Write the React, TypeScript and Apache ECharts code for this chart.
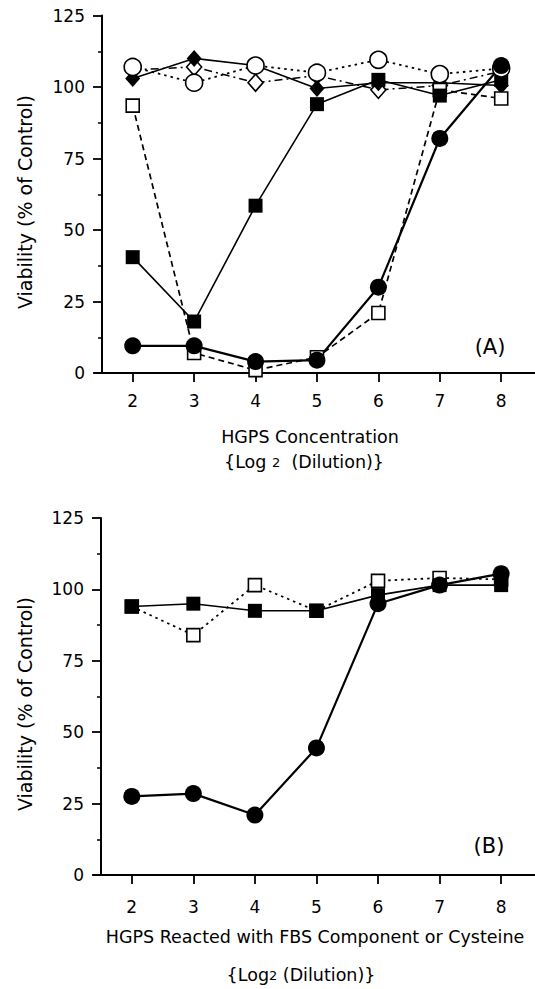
import React, { useEffect, useRef } from "react";
import * as echarts from "echarts";

// dilution steps (log2)
const xValues = [2, 3, 4, 5, 6, 7, 8];
const yTicks = [0, 25, 50, 75, 100, 125];

// Panel A
const aOpenDiamond = [106, 107, 101.5, 104, 99, 100.5, 105.5];
const aFilledDiamond = [103, 110, 107.5, 99.5, 101.5, 101.5, 100.5];
const aOpenSquare = [93.5, 7, 1, 5.5, 21, 99, 96];
const aFilledSquare = [40.5, 18, 58.5, 94, 102.5, 97, 102.5];
const aOpenCircle = [107, 101.5, 107.5, 105, 109.5, 104.5, 106.5];
const aFilledCircle = [9.5, 9.5, 4, 4.5, 30, 82, 107.5];

// Panel B
const bOpenSquare = [94, 84, 101.5, 92.5, 103, 104, 103.5];
const bFilledSquare = [94, 95, 92.5, 92.5, 98, 101.5, 101.5];
const bFilledCircle = [27.5, 28.5, 21, 44.5, 95, 101.5, 105.5];

const FONT = "DejaVu Sans";

function pairs(vals: number[]) {
  return xValues.map((x, i) => [x, vals[i]]);
}

function series(
  name: string,
  idx: number,
  vals: number[],
  symbol: string,
  size: number | number[],
  filled: boolean,
  lineType: any,
  width: number
) {
  return {
    name,
    type: "line",
    xAxisIndex: idx,
    yAxisIndex: idx,
    data: pairs(vals),
    symbol,
    symbolSize: size,
    showAllSymbol: true,
    lineStyle: { color: "#000", width, type: lineType },
    itemStyle: {
      color: filled ? "#000" : "#fff",
      borderColor: "#000",
      borderWidth: filled ? 0 : 1.6,
    },
    emphasis: { disabled: true },
  };
}

function xAxis(idx: number, margin: number) {
  return {
    gridIndex: idx,
    type: "value",
    min: 1.5,
    max: 8.55,
    axisLine: { show: true, onZero: false, lineStyle: { color: "#000", width: 2 } },
    axisTick: {
      show: true,
      length: 9,
      customValues: xValues,
      lineStyle: { color: "#000", width: 1.8 },
    },
    axisLabel: {
      customValues: xValues,
      margin,
      fontSize: 17,
      fontFamily: FONT,
      color: "#000",
    },
    splitLine: { show: false },
  };
}

function yAxis(idx: number) {
  return {
    gridIndex: idx,
    type: "value",
    min: 0,
    max: 125,
    interval: 25,
    axisLine: { show: true, lineStyle: { color: "#000", width: 2 } },
    axisTick: { show: true, length: 9, lineStyle: { color: "#000", width: 1.8 } },
    minorTick: { show: true, splitNumber: 2, length: 4, lineStyle: { color: "#000", width: 1.5 } },
    axisLabel: {
      margin: 17,
      fontSize: 17,
      fontFamily: FONT,
      color: "#000",
      customValues: yTicks,
    },
    splitLine: { show: false },
    minorSplitLine: { show: false },
  };
}

export default function App() {
  const ref = useRef<HTMLDivElement>(null);

  useEffect(() => {
    document.body.style.margin = "0";
    const chart = echarts.init(ref.current!, null, { renderer: "svg" });
    const textStyle = { fontFamily: FONT, fill: "#000", textAlign: "center", textVerticalAlign: "middle" };
    chart.setOption({
      animation: false,
      backgroundColor: "#fff",
      grid: [
        { left: 102, top: 15.5, width: 433, height: 357.5 },
        { left: 101, top: 518, width: 434, height: 357 },
      ],
      xAxis: [xAxis(0, 19), xAxis(1, 23)],
      yAxis: [yAxis(0), yAxis(1)],
      series: [
        series("A open diamond", 0, aOpenDiamond, "diamond", [15, 17], false, [8, 4, 2, 4], 1.5),
        series("A filled diamond", 0, aFilledDiamond, "diamond", [15, 17], true, "solid", 1.6),
        series("A open square", 0, aOpenSquare, "rect", 13, false, [6, 4], 1.7),
        series("A filled square", 0, aFilledSquare, "rect", 14, true, "solid", 1.6),
        series("A open circle", 0, aOpenCircle, "circle", 17, false, [2.5, 4], 1.8),
        series("A filled circle", 0, aFilledCircle, "circle", 17, true, "solid", 2.2),
        series("B open square", 1, bOpenSquare, "rect", 13, false, [2.5, 4], 1.8),
        series("B filled square", 1, bFilledSquare, "rect", 14, true, "solid", 1.6),
        series("B filled circle", 1, bFilledCircle, "circle", 17, true, "solid", 2.2),
      ],
      graphic: [
        { type: "line", shape: { x1: 94, y1: 373, x2: 102, y2: 373 }, style: { stroke: "#000", lineWidth: 2 } },
        { type: "line", shape: { x1: 93, y1: 875, x2: 101, y2: 875 }, style: { stroke: "#000", lineWidth: 2 } },
        {
          type: "text", x: 25, y: 202, rotation: Math.PI / 2,
          style: { ...textStyle, text: "Viability (% of Control)", fontSize: 19 },
        },
        {
          type: "text", x: 25, y: 704, rotation: Math.PI / 2,
          style: { ...textStyle, text: "Viability (% of Control)", fontSize: 19 },
        },
        { type: "text", x: 310, y: 437, style: { ...textStyle, text: "HGPS Concentration", fontSize: 17.5 } },
        {
          type: "text", x: 304, y: 462,
          style: {
            ...textStyle, text: "{Log {b|2}  (Dilution)}", fontSize: 17.5,
            rich: { b: { fontSize: 13, fontFamily: FONT, fill: "#000" } },
          },
        },
        {
          type: "text", x: 315, y: 937,
          style: { ...textStyle, text: "HGPS Reacted with FBS Component or Cysteine", fontSize: 17.5 },
        },
        {
          type: "text", x: 301, y: 975,
          style: {
            ...textStyle, text: "{Log{b|2} (Dilution)}", fontSize: 17.5,
            rich: { b: { fontSize: 13, fontFamily: FONT, fill: "#000" } },
          },
        },
        { type: "text", x: 490, y: 347, style: { ...textStyle, text: "(A)", fontSize: 21 } },
        { type: "text", x: 489, y: 846, style: { ...textStyle, text: "(B)", fontSize: 21 } },
      ],
    });
    return () => chart.dispose();
  }, []);

  return (
    <div
      ref={ref}
      style={{ position: "absolute", left: 0, top: 0, width: 535, height: 989, background: "#fff" }}
    />
  );
}
